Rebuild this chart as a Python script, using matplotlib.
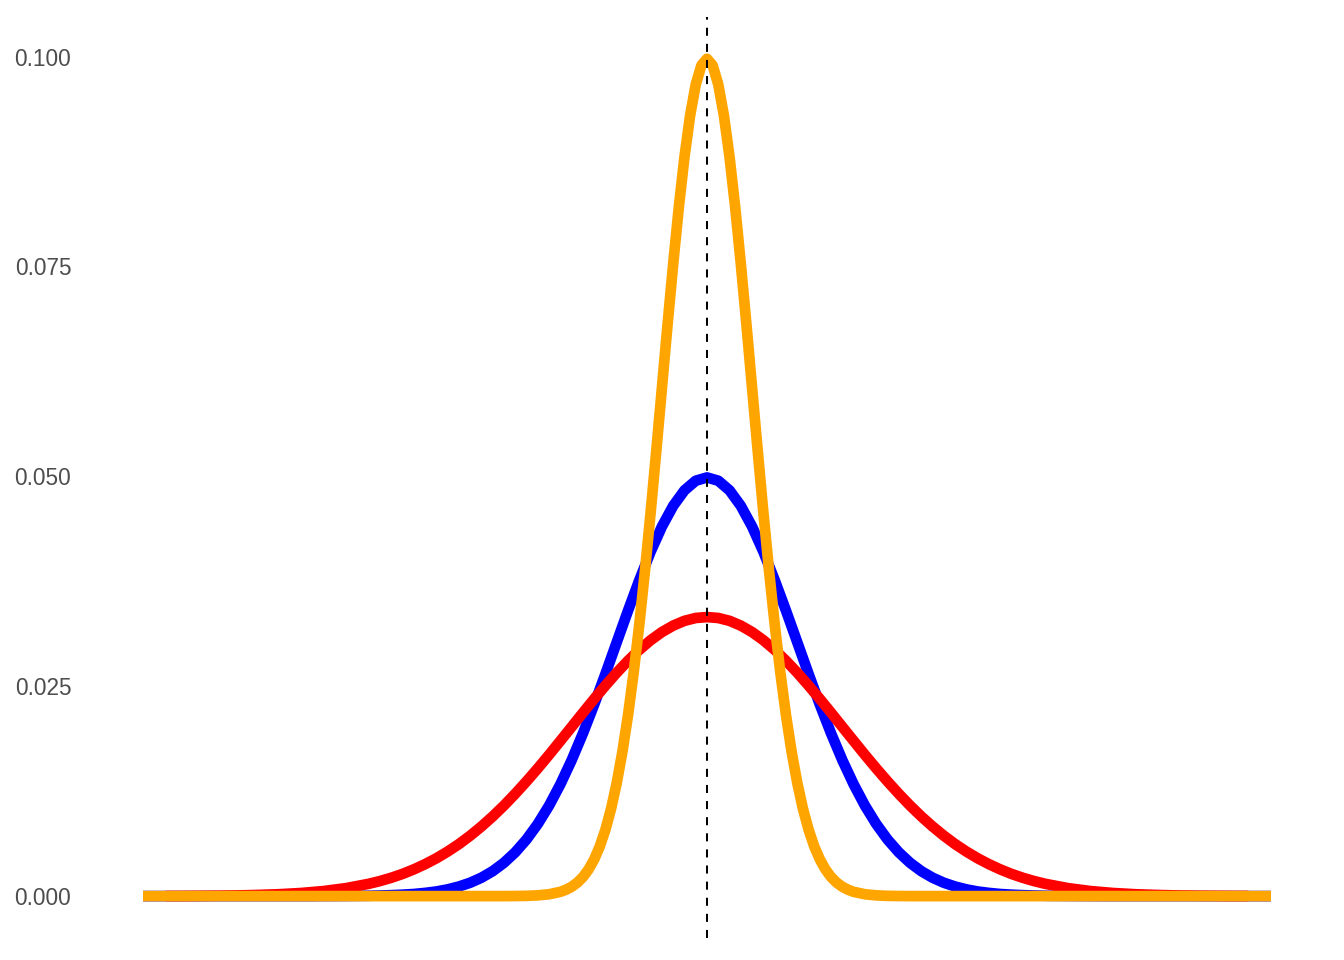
import matplotlib
matplotlib.use("Agg")
import matplotlib.pyplot as plt

# ---- data ----
orange_x = [-50, -35, -20, -18, -17, -16, -15, -14, -13,
            -12.5, -12, -11.5, -11, -10.5, -10, -9.5, -9, -8.5, -8, -7.5, -7, -6.5, -6,
            -5.5, -5, -4.5, -4, -3.5, -3, -2.5, -2, -1.5, -1, -0.5,
            0,
            0.5, 1, 1.5, 2, 2.5, 3, 3.5, 4, 4.5, 5, 5.5,
            6, 6.5, 7, 7.5, 8, 8.5, 9, 9.5, 10, 10.5, 11, 11.5, 12, 12.5,
            13, 14, 15, 16, 17, 18, 20, 35, 50]
orange_y = [0, 0, 0, 0, 0.00001, 0.00003, 0.00009, 0.00022, 0.00051,
            0.00076, 0.00111, 0.00160, 0.00227, 0.00318, 0.00438, 0.00594, 0.00794, 0.01043,
            0.01350, 0.01720, 0.02157, 0.02664, 0.03238,
            0.03876, 0.04566, 0.05297, 0.06049, 0.06802, 0.07528, 0.08204, 0.08802, 0.09297,
            0.09667, 0.09896,
            0.09974,
            0.09896, 0.09667, 0.09297, 0.08802, 0.08204, 0.07528, 0.06802, 0.06049, 0.05297,
            0.04566, 0.03876,
            0.03238, 0.02664, 0.02157, 0.01720, 0.01350, 0.01043, 0.00794, 0.00594, 0.00438,
            0.00318, 0.00227, 0.00160, 0.00111, 0.00076,
            0.00051, 0.00022, 0.00009, 0.00003, 0.00001, 0, 0, 0, 0]

blue_x = [-50, -42] + list(range(-35, 36)) + [42, 50]
blue_y = [0, 0,
          0, 0.00001, 0.00001, 0.00002, 0.00003, 0.00004, 0.00007, 0.00011, 0.00017, 0.00025,
          0.00038, 0.00055, 0.00080, 0.00114, 0.00159, 0.00219, 0.00297, 0.00397, 0.00522,
          0.00675, 0.00860, 0.01078, 0.01332, 0.01619, 0.01938, 0.02283, 0.02648, 0.03025,
          0.03401, 0.03764, 0.04102, 0.04401, 0.04648, 0.04833, 0.04948,
          0.04987,
          0.04948, 0.04833, 0.04648, 0.04401, 0.04102, 0.03764, 0.03401, 0.03025, 0.02648,
          0.02283, 0.01938, 0.01619, 0.01332, 0.01078, 0.00860, 0.00675, 0.00522, 0.00397,
          0.00297, 0.00219, 0.00159, 0.00114, 0.00080, 0.00055, 0.00038, 0.00025, 0.00017,
          0.00011, 0.00007, 0.00004, 0.00003, 0.00002, 0.00001, 0.00001, 0,
          0, 0]

red_x = list(range(-48, -30, 2)) + list(range(-30, 31)) + list(range(32, 49, 2))
red_y = [0.00001, 0.00002, 0.00004, 0.00007, 0.00013, 0.00022, 0.00037, 0.00060, 0.00095,
         0.00146, 0.00179, 0.00218, 0.00264, 0.00318, 0.00380, 0.00450, 0.00530, 0.00619,
         0.00719, 0.00829, 0.00949, 0.01079, 0.01219, 0.01367, 0.01522, 0.01683, 0.01849,
         0.02016, 0.02184, 0.02349, 0.02509, 0.02662, 0.02804, 0.02934, 0.03048, 0.03145,
         0.03222, 0.03279, 0.03313,
         0.03324,
         0.03313, 0.03279, 0.03222, 0.03145, 0.03048, 0.02934, 0.02804, 0.02662, 0.02509,
         0.02349, 0.02184, 0.02016, 0.01849, 0.01683, 0.01522, 0.01367, 0.01219, 0.01079,
         0.00949, 0.00829, 0.00719, 0.00619, 0.00530, 0.00450, 0.00380, 0.00318, 0.00264,
         0.00218, 0.00179, 0.00146,
         0.00095, 0.00060, 0.00037, 0.00022, 0.00013, 0.00007, 0.00004, 0.00002, 0.00001]

mean_x = 0
y_ticks = [0.0, 0.025, 0.05, 0.075, 0.1]
y_tick_labels = ["0.000", "0.025", "0.050", "0.075", "0.100"]

# ---- figure ----
fig = plt.figure(figsize=(13.44, 9.6), dpi=100)
ax = fig.add_axes([86.6 / 1344, 22 / 960, (1327.4 - 86.6) / 1344, (938 - 17) / 960])

lw = 7.7
ax.plot(blue_x, blue_y, color="#0000FF", lw=lw, solid_capstyle="butt", solid_joinstyle="round")
ax.plot(red_x, red_y, color="#FF0000", lw=lw, solid_capstyle="butt", solid_joinstyle="round")
ax.plot(orange_x, orange_y, color="#FFA500", lw=lw, solid_capstyle="butt", solid_joinstyle="round")
ax.axvline(mean_x, color="black", lw=1.45, dashes=(4, 4))

ax.set_xlim(-55, 55)
ax.set_ylim(-0.00499, 0.10472)
ax.set_xticks([])
ax.set_yticks(y_ticks)
ax.set_yticklabels(y_tick_labels, fontfamily="Liberation Sans", fontsize=16.3, color="#4D4D4D")
ax.tick_params(axis="y", length=0, pad=11)
for s in ax.spines.values():
    s.set_visible(False)

fig.savefig("out.png", dpi=100, facecolor="white")
